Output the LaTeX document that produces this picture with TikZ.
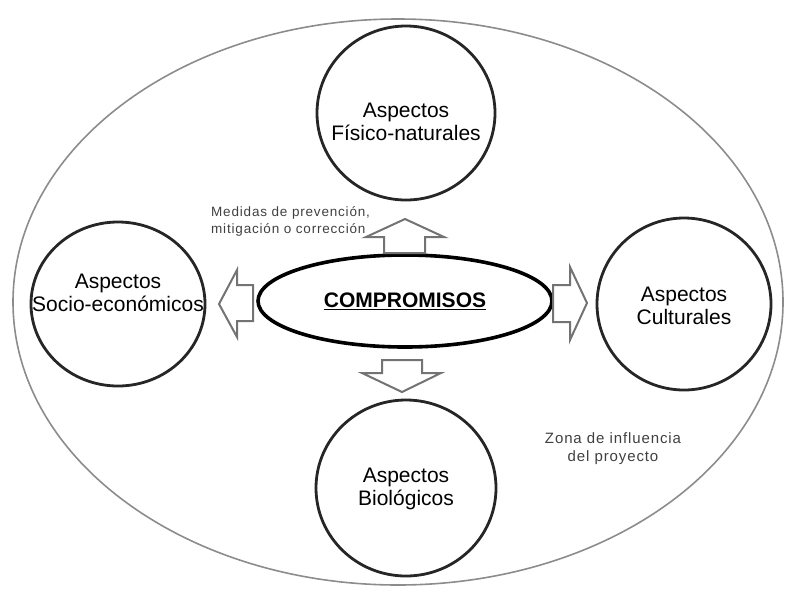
\documentclass[tikz,border=0pt]{standalone}
\usepackage{fontspec}
\setmainfont{Liberation Sans}
\newfontfamily\notefont[LetterSpace=6]{Liberation Sans}
\usetikzlibrary{shapes.geometric}
\tikzset{
  zone/.style={draw=black!45, line width=1.6pt, ellipse, inner sep=0pt},
  aspect/.style={draw=black!85, line width=2.8pt, ellipse, inner sep=0pt},
  aspecttext/.style={inner sep=0pt, align=center, font=\fontsize{21}{23}\selectfont},
  core/.style={draw=black, line width=3.6pt, ellipse, inner sep=0pt},
  coretext/.style={inner sep=0pt, font=\fontsize{21}{23}\selectfont\bfseries},
  blockarrow/.style={draw=black!55, line width=2pt, fill=white, line join=miter},
  note/.style={text=black!75, inner sep=0pt, font=\notefont\fontsize{13.5}{17}\selectfont},
  zonenote/.style={text=black!75, inner sep=0pt, font=\notefont\fontsize{15}{18}\selectfont}
}
\begin{document}
\begin{tikzpicture}[x=1pt,y=-1pt]
\useasboundingbox (0,0) rectangle (787,598);
\node[zone, minimum width=770pt, minimum height=566pt] (zona) at (398,302) {};
% circles
\node[aspect, minimum width=178pt, minimum height=174pt] (fisico) at (406,113) {};
\node[aspect, minimum width=174pt, minimum height=164pt] (socio) at (118,304) {};
\node[aspect, minimum width=174pt, minimum height=172pt] (cult) at (684,304) {};
\node[aspect, minimum width=180pt, minimum height=176pt] (bio) at (406,488) {};
\node[core, minimum width=294pt, minimum height=92pt] (comp) at (405,301) {};
% texts
\node[aspecttext] (fisicotxt) at (406,122) {Aspectos\\Físico-naturales};
\node[aspecttext] (sociotxt) at (118,293) {Aspectos\\Socio-económicos};
\node[aspecttext] (culttxt) at (684,306) {Aspectos\\Culturales};
\node[aspecttext] (biotxt) at (406,489) {Aspectos\\Biológicos};
\node[coretext] (comptxt) at (comp) {\underline{COMPROMISOS}};
% block arrows
\draw[blockarrow] (384,253) -- (384,237) -- (366,237) -- (405,219) -- (444,237) -- (425,237) -- (425,253) -- cycle;
\draw[blockarrow] (382,360) -- (422,360) -- (422,373) -- (441,373) -- (402,392) -- (362,373) -- (382,373) -- cycle;
\draw[blockarrow] (253,285) -- (253,321) -- (237,321) -- (237,337) -- (219,304) -- (237,270) -- (237,285) -- cycle;
\draw[blockarrow] (553,285) -- (570,285) -- (570,267) -- (587,303) -- (570,340) -- (570,322) -- (553,322) -- cycle;
% notes
\node[note, align=left, anchor=west] (medidas) at (211,221) {Medidas de prevención,\\mitigación o corrección};
\node[zonenote, align=center] (zonatxt) at (613,449) {Zona de influencia\\del proyecto};
\end{tikzpicture}
\end{document}
